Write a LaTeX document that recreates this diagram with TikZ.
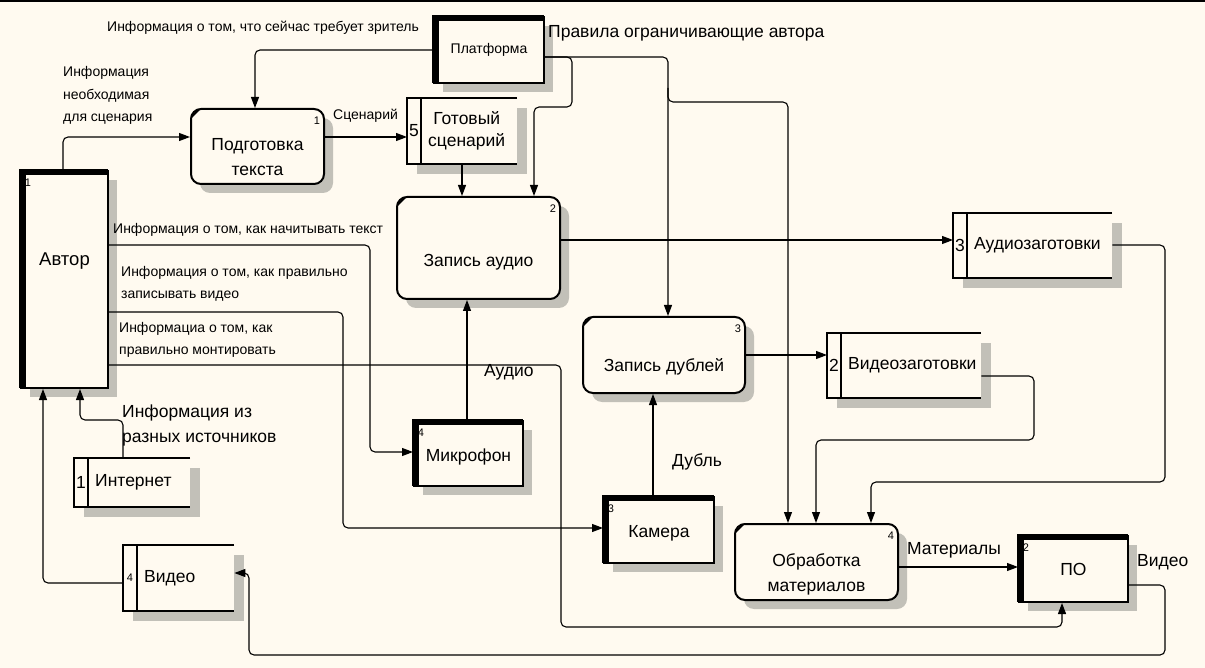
\documentclass[tikz,border=0pt]{standalone}
\usepackage{fontspec}
\setmainfont{Liberation Sans}
\usetikzlibrary{arrows.meta}
\definecolor{bg}{HTML}{FFFAF0}
\definecolor{shad}{HTML}{C2C0B8}
\newcommand\fsmall{\fontsize{14}{17}\selectfont}
\newcommand\fbig{\fontsize{17.5}{22}\selectfont}
\newcommand\fproc{\fontsize{17.5}{25}\selectfont}
\newcommand\fnum{\fontsize{11}{13}\selectfont}
\newcommand\fauthor{\fontsize{18.5}{22}\selectfont}
% process: name x y w h text num textdy
\newcommand\myproc[8]{%
  \fill[shad, rounded corners=10pt] (#2+10,#3+10) rectangle ++(#4,#5);
  \node[procst, minimum width=#4pt, minimum height=#5pt, anchor=north west] (#1) at (#2,#3) {};
  \draw[line width=2pt] (#2+1.5,#3+9) -- (#2+9,#3+1.5);
  \node[font=\fnum, inner sep=0pt] at ([shift={(-8,13)}]#1.north east) {#7};
  \node[font=\fproc, align=center, inner sep=0pt] at ([shift={(0,#8)}]#1.center) {#6};
}
% entity: name x y w h text num textdy font
\newcommand\myent[9]{%
  \fill[shad] (#2+10,#3+10) rectangle ++(#4,#5);
  \node[entst, minimum width=#4pt, minimum height=#5pt, anchor=north west] (#1) at (#2,#3) {};
  \fill[black] (#2-1,#3-1) rectangle ++(7,#5+2);
  \fill[black] (#2-1,#3-1) rectangle ++(#4+2,6);
  \node[font=\fnum, inner sep=0pt] at ([shift={(8,13)}]#1.north west) {#7};
  \node[font=#9, inner sep=0pt] at ([shift={(0,#8)}]#1.center) {#6};
}
% store: name x y w h text num numfont
\newcommand\mystore[8]{%
  \fill[shad] (#2+10,#3+10) rectangle ++(#4,#5);
  \node[fill=bg, inner sep=0pt, minimum width=#4pt, minimum height=#5pt, anchor=north west] (#1) at (#2,#3) {};
  \draw[line width=2pt] (#2+#4,#3) -- (#2,#3) -- (#2,#3+#5) -- (#2+#4,#3+#5);
  \draw[line width=2pt] (#2+14,#3) -- (#2+14,#3+#5);
  \node[font=#8, inner sep=0pt] at (#2+7,#3+#5/2) {#7};
  \node[font=\fbig, align=center, anchor=west, inner sep=0pt] at (#2+21,#3+#5/2) {#6};
}
\begin{document}
\begin{tikzpicture}[x=1pt,y=-1pt,
  flow/.style={line width=1.1pt, rounded corners=5pt, -{Triangle[length=11pt,width=8pt]}},
  procst/.style={draw, line width=2pt, rounded corners=10pt, fill=bg, inner sep=0pt},
  entst/.style={draw, line width=2pt, fill=bg, inner sep=0pt},
  lbl/.style={anchor=west, inner sep=0pt, align=left},
]
\fill[bg] (0,0) rectangle (1205,668);
\useasboundingbox (0,0) rectangle (1205,668);
\draw[line width=2pt] (0,1) -- (1205,1);

% boxes
\myent{avtor}{20}{170}{87}{217}{Автор}{1}{-18}{\fauthor}
\myent{plat}{433}{16}{110}{66}{Платформа}{}{0}{\fsmall}
\myent{mic}{413}{420}{109}{65}{Микрофон}{4}{3}{\fbig}
\myent{cam}{603}{496}{110}{66}{Камера}{3}{3}{\fbig}
\myent{po}{1018}{535}{109}{66}{ПО}{2}{0}{\fbig}

\myproc{prep}{190}{108}{133}{75}{Подготовка\\текста}{1}{11}
\myproc{zap}{396}{196}{163}{102}{Запись аудио}{2}{14}
\myproc{dub}{582}{316}{162}{76}{Запись дублей}{3}{12}
\myproc{obr}{734}{523}{163}{76}{Обработка\\материалов}{4}{12}

\mystore{gs}{407}{98}{110}{66}{Готовый\\сценарий}{5}{\fbig}
\mystore{azag}{953}{213}{159}{65}{Аудиозаготовки}{3}{\fbig}
\mystore{vzag}{827}{333}{154}{65}{Видеозаготовки}{2}{\fbig}
\mystore{inet}{74}{458}{116}{49}{Интернет}{1}{\fbig}
\mystore{video}{123}{545}{111}{66}{Видео}{4}{\fnum}

% connectors
\draw[flow] (63,0 |- avtor.north) |- (prep.west |- 0,137);
\draw[flow] (plat.west |- 0,50) -| (prep.north -| 255,0);
\draw[flow] (prep.east |- 0,137) -- (gs.west |- 0,137);
\draw[flow] (gs.south -| 462,0) -- (zap.north -| 462,0);
\draw[flow] (plat.east |- 0,57) -| (572,107) -| (zap.north -| 534,0);
\draw[flow] (plat.east |- 0,57) -| (dub.north -| 668,0);
\draw[flow] (668,88) -- (668,102) -| (obr.north -| 788,0);
\draw[flow] (zap.east |- 0,240) -- (azag.west |- 0,240);
\draw[flow] (dub.east |- 0,355) -- (vzag.west |- 0,355);
\draw[flow] (azag.east |- 0,245) -| (1165,482) -| (obr.north -| 871,0);
\draw[flow] (vzag.east |- 0,376) -| (1034,440) -| (obr.north -| 816,0);
\draw[flow] (avtor.east |- 0,245) -| (370,452) -- (mic.west |- 0,452);
\draw[flow] (avtor.east |- 0,312) -| (343,528) -- (cam.west |- 0,528);
\draw[flow] (avtor.east |- 0,365) -| (561,627) -| (po.south -| 1062,0);
\draw[flow] (mic.north -| 467,0) -- (zap.south -| 467,0);
\draw[flow] (cam.north -| 653,0) -- (dub.south -| 653,0);
\draw[flow] (obr.east |- 0,567) -- (po.west |- 0,567);
\draw[flow] (po.east |- 0,585) -| (1165,655) -| (249,573) -- (video.east |- 0,573);
\draw[flow] (video.west |- 0,583) -| (avtor.south -| 43,0);
\draw[flow] (inet.north -| 123,0) |- (80,420) -- (avtor.south -| 80,0);

% labels
\node[lbl, font=\fsmall] (l1) at (107,28) {Информация о том, что сейчас требует зритель};
\node[lbl, font=\fontsize{14}{22.5}\selectfont] (l2) at (63,95.5) {Информация\\необходимая\\для сценария};
\node[lbl, font=\fsmall] (l3) at (333,116) {Сценарий};
\node[lbl, font=\fbig] (l4) at (548,33) {Правила ограничивающие автора};
\node[lbl, font=\fsmall] (l5) at (113,230) {Информация о том, как начитывать текст};
\node[lbl, font=\fontsize{14}{22}\selectfont] (l6) at (121,284) {Информация о том, как правильно\\записывать видео};
\node[lbl, font=\fontsize{14}{22}\selectfont] (l7) at (119,340) {Информациа о том, как\\правильно монтировать};
\node[lbl, font=\fbig] (l8) at (484,372) {Аудио};
\node[lbl, font=\fontsize{17.5}{25}\selectfont] (l9) at (122,425.5) {Информация из\\разных источников};
\node[lbl, font=\fbig] (l10) at (672,462) {Дубль};
\node[lbl, font=\fbig] (l11) at (907,550) {Материалы};
\node[lbl, font=\fbig] (l12) at (1137,562) {Видео};
\end{tikzpicture}
\end{document}
